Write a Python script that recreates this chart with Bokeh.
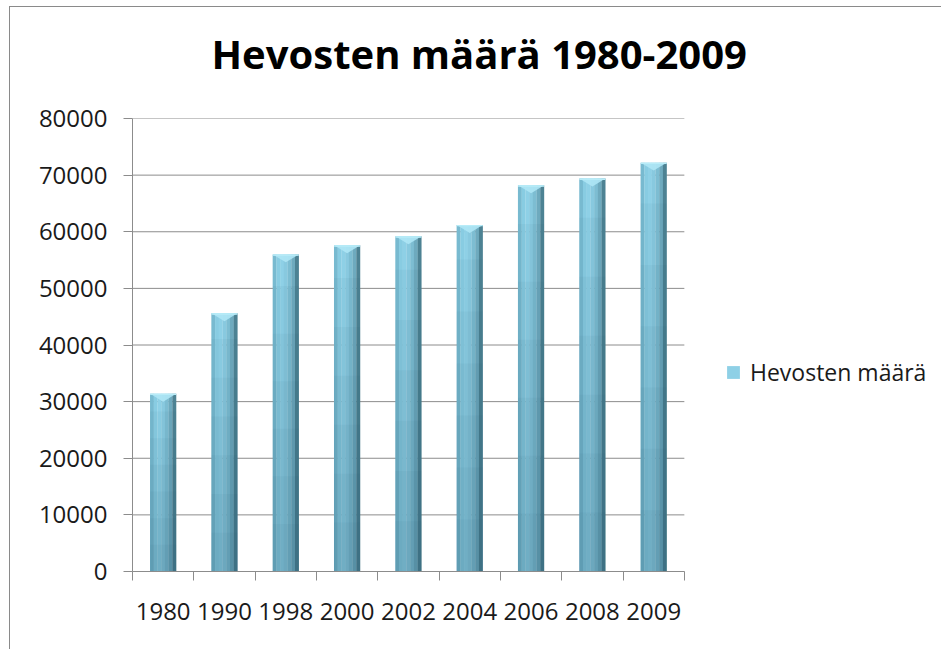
from bokeh.plotting import figure
from bokeh.models import (Range1d, FixedTicker, Legend, LegendItem, ColumnDataSource,
                          NumeralTickFormatter, Title)
from bokeh.transform import dodge
from bokeh.embed import file_html
from bokeh.resources import INLINE

# ---- data ----
years = ["1980", "1990", "1998", "2000", "2002", "2004", "2006", "2008", "2009"]
horses = [31400, 45600, 56000, 57600, 59200, 61200, 68200, 69400, 72200]
y_ticks = [0, 10000, 20000, 30000, 40000, 50000, 60000, 70000, 80000]
title_text = "Hevosten määrä 1980-2009"
series_name = "Hevosten määrä"

n_cat = len(years)
pos = [i + 0.5 for i in range(n_cat)]
src = ColumnDataSource(dict(x=pos, top=horses, year=years))

FONT = "Open Sans"
GRAY = "#8c8c8c"
X_END = 13.21  # frame extends to the right so the legend can sit beside the bars

p = figure(width=932, height=643, output_backend="svg", toolbar_location=None,
           x_range=Range1d(0, X_END), y_range=Range1d(0, 80000),
           min_border_left=122, min_border_right=0, min_border_top=111,
           min_border_bottom=79, title=title_text)
p.margin = (6, 0, 0, 9)
p.styles = {"border-left": "1px solid #8a8a8a", "border-top": "1px solid #8a8a8a"}
p.outline_line_color = None
p.background_fill_color = "white"
p.border_fill_color = "white"
p.xgrid.grid_line_color = None
p.ygrid.grid_line_color = None

p.title.text_font = FONT
p.title.text_font_size = "40px"
p.title.text_font_style = "bold"
p.title.text_color = "#000000"
p.title.align = "left"
p.title.offset = 79
p.title.standoff = 20

# empty spacer between the frame and the title
p.add_layout(Title(text=" ", text_font_size="2px", standoff=24), "above")

# horizontal grid lines over the category span
p.segment(x0=[0] * len(y_ticks), x1=[n_cat] * len(y_ticks), y0=y_ticks, y1=y_ticks,
          line_color=GRAY, line_width=1)

# bar strips (horizontal shading, light left -> dark right)
bar_w = 0.425
strip_colors = ["#78bad0", "#88cce2", "#8ed0e6", "#88c9df", "#7dbdd2", "#6eaabe", "#4d8293"]
n = len(strip_colors)
sw = bar_w / n
renderers = []
for i, c in enumerate(strip_colors):
    off = -bar_w / 2 + sw * (i + 0.5)
    r = p.vbar(x=dodge("x", off), top="top", bottom=0, width=sw * 1.05, source=src,
               fill_color=c, line_color=None)
    renderers.append(r)
# vertical darkening toward the bottom
for k in [0.9, 0.75, 0.6, 0.45, 0.3, 0.15]:
    src_k = ColumnDataSource(dict(x=pos, top=[v * k for v in horses]))
    p.vbar(x="x", top="top", bottom=0, width=bar_w, source=src_k,
           fill_color="#1f4a5a", fill_alpha=0.045, line_color=None)
# bevel on the top of each bar
bev_depth = 1400
bev_xs = [[x - bar_w / 2, x + bar_w / 2, x] for x in pos]
bev_ys = [[v, v, v - bev_depth] for v in horses]
p.patches(xs=bev_xs, ys=bev_ys, fill_color="#aee6f5", line_color=None, fill_alpha=0.9)
cap_src = ColumnDataSource(dict(x=pos, top=horses, bottom=[v - 250 for v in horses]))
p.vbar(x="x", top="top", bottom="bottom", width=bar_w, source=cap_src,
       fill_color="#b8ecf8", line_color=None)

# axes
xa = p.xaxis[0]
xa.bounds = (0, n_cat)
xa.ticker = FixedTicker(ticks=pos, minor_ticks=list(range(n_cat + 1)))
xa.major_label_overrides = {p_: y for p_, y in zip(pos, years)}
xa.major_tick_line_color = None
xa.minor_tick_line_color = GRAY
xa.minor_tick_out = 9
xa.minor_tick_in = 0
xa.axis_line_color = GRAY
xa.major_label_text_font = FONT
xa.major_label_text_font_size = "24px"
xa.major_label_text_color = "#1a1a1a"
xa.major_label_standoff = 22

ya = p.yaxis[0]
ya.ticker = FixedTicker(ticks=y_ticks)
ya.formatter = NumeralTickFormatter(format="0")
ya.major_tick_line_color = GRAY
ya.major_tick_out = 9
ya.major_tick_in = 0
ya.minor_tick_line_color = None
ya.axis_line_color = GRAY
ya.major_label_text_font = FONT
ya.major_label_text_font_size = "24px"
ya.major_label_text_color = "#1a1a1a"
ya.major_label_standoff = 16

legend = Legend(items=[LegendItem(label=series_name, renderers=[renderers[2]])],
                location=(593, 183), border_line_color=None, background_fill_alpha=0,
                label_text_font=FONT, label_text_font_size="23px",
                label_text_color="#1a1a1a", glyph_width=16, glyph_height=16,
                label_standoff=9, padding=0, margin=0)
p.add_layout(legend, "center")

open("out.html", "w").write(file_html(p, INLINE))
